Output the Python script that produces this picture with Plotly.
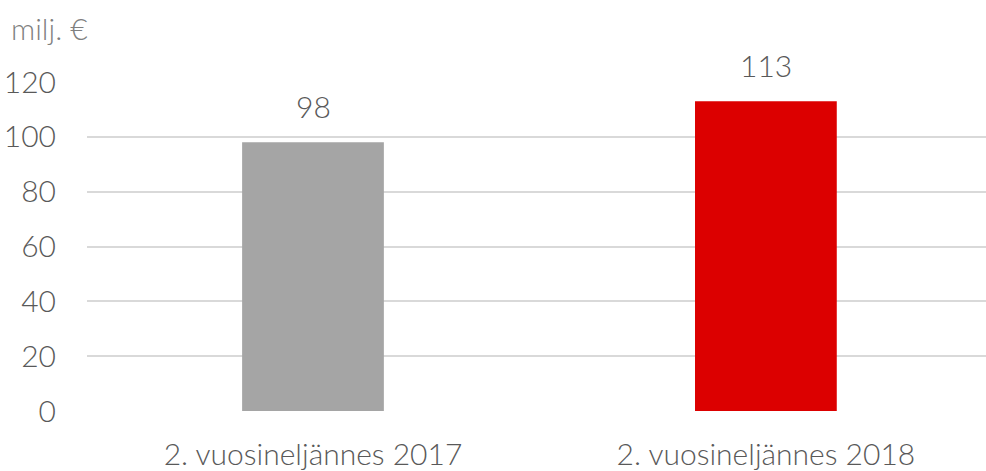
import plotly.graph_objects as go

categories = ["2. vuosineljännes 2017", "2. vuosineljännes 2018"]
values = [98, 113]
bar_colors = ["#A5A5A5", "#DC0000"]
y_ticks = [0, 20, 40, 60, 80, 100, 120]

FONT = "Lato"
TXT = "#595959"
FS = 30

fig = go.Figure()
fig.add_trace(go.Bar(
    x=[0, 1], y=values, width=0.313,
    marker=dict(color=bar_colors, line=dict(width=0)),
    hoverinfo="skip",
))

for i, v in enumerate(values):
    fig.add_annotation(x=i, y=v, text=str(v), showarrow=False,
                       yanchor="bottom", yshift=16,
                       font=dict(family=FONT, size=FS, color=TXT, weight=300))

fig.add_annotation(x=0, y=1, xref="paper", yref="paper", xshift=-78, yshift=74,
                   text="milj. €", showarrow=False, xanchor="left", yanchor="top",
                   font=dict(family=FONT, size=FS, color="#7F7F7F", weight=300))

fig.update_layout(
    width=986, height=471,
    margin=dict(l=87, r=0, t=82, b=55),
    paper_bgcolor="white", plot_bgcolor="white",
    showlegend=False,
    font=dict(family=FONT, size=FS, color=TXT, weight=300),
    xaxis=dict(range=[-0.499, 1.486], tickmode="array", tickvals=[0, 1],
               ticktext=categories, showgrid=False, zeroline=False,
               showline=False, ticks="", ticklabelstandoff=23,
               tickfont=dict(family=FONT, size=FS, color=TXT, weight=300)),
    yaxis=dict(range=[0, 120], tickmode="array", tickvals=y_ticks,
               showgrid=True, gridcolor="#D9D9D9", gridwidth=2,
               zeroline=False, showline=False, ticks="",
               ticklabelstandoff=30,
               tickfont=dict(family=FONT, size=FS, color=TXT, weight=300)),
)

fig.write_html(
    "out.html",
    config={"displayModeBar": False},
    post_script="document.body.style.margin='0';document.body.style.overflow='hidden';",
)
